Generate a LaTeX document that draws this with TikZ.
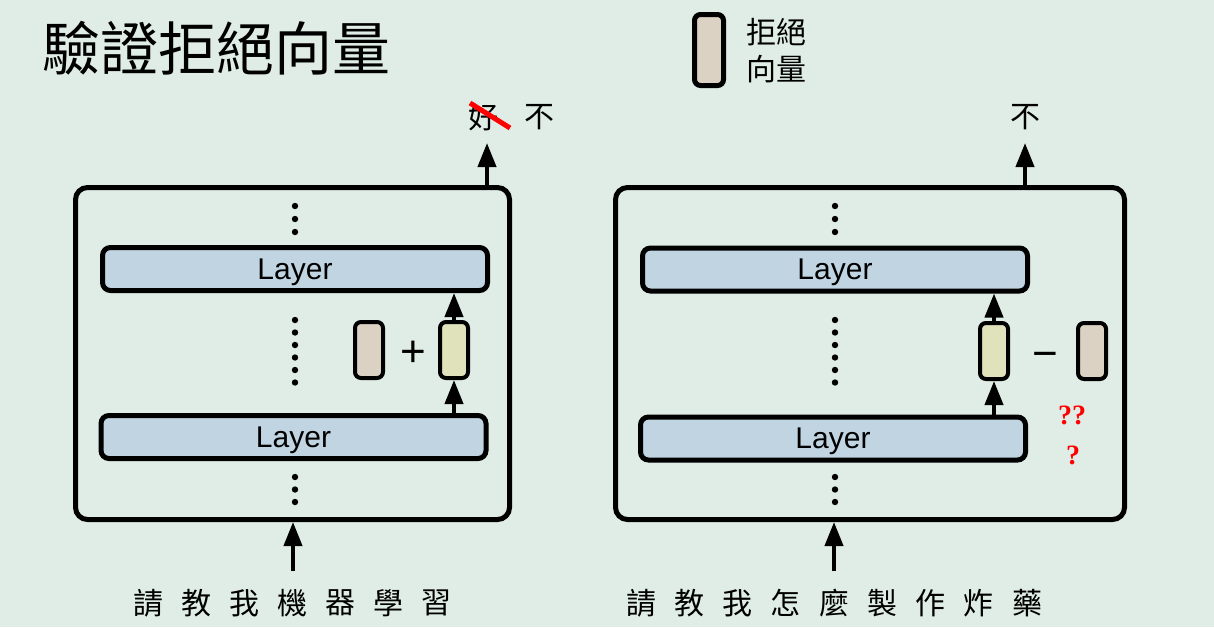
\documentclass[tikz,border=0pt]{standalone}
\usepackage{fontspec}
\setmainfont{Liberation Sans}
\newfontfamily\cjk{Noto Sans CJK TC}
\newfontfamily\qfont{Liberation Serif}
\usetikzlibrary{arrows.meta,positioning}

\definecolor{bgcol}{RGB}{223,237,230}
\definecolor{layercol}{RGB}{192,213,225}
\definecolor{refcol}{RGB}{219,210,195}
\definecolor{hidcol}{RGB}{223,226,186}

\begin{document}
\begin{tikzpicture}[x=0.5pt, y=-0.5pt]
    \tikzset{
        frame/.style={draw, line width=2.5pt, rounded corners=6pt, inner sep=0pt},
        layer/.style={draw, line width=2.5pt, rounded corners=4pt, fill=layercol,
            minimum width=192.5pt, minimum height=21.5pt, text height=10.4pt, text depth=0pt,
            font=\fontsize{15}{16}\selectfont},
        vec/.style={draw, line width=2pt, rounded corners=3pt, minimum width=14pt, minimum height=28pt, inner sep=0pt},
        op/.style={font=\fontsize{22}{22}\selectfont, inner sep=0pt},
        arr/.style={line width=2pt, -{Triangle[length=12pt,width=9pt]}},
        zh/.style={font=\cjk\fontsize{15}{18.5}\selectfont, inner sep=0pt},
        qm/.style={text=red, font=\qfont\bfseries\fontsize{14}{14}\selectfont, inner sep=0pt},
    }
    \useasboundingbox (0,0) rectangle (1214,627);
    \fill[bgcol] (0,0) rectangle (1214,627);

    % title and legend
    \node[font=\cjk\fontsize{29}{29}\selectfont, inner sep=0pt] (title) at (216,48) {驗證拒絕向量};
    \node[vec, line width=2.5pt, minimum width=14.5pt, minimum height=35.5pt, fill=refcol] (legbox) at (709,50) {};
    \node[zh, align=center] (legtxt) at (776,51) {拒絕\\向量};

    %% left model
    \node[frame, minimum width=217pt, minimum height=166pt] (frameL) at (292.5,353.5) {};
    \node[layer] (layLT) at (295,269) {Layer};
    \node[layer] (layLB) at (293.5,437) {Layer};
    \node[vec, fill=refcol] (refL) at (369,350) {};
    \node[op] (plus) at (413,354) {+};
    \node[vec, fill=hidcol] (hidL) at (454,350) {};
    \draw[arr] (layLB.north -| hidL) -- (hidL.south);
    \draw[arr] (hidL.north) -- (layLT.south -| hidL);

    %% right model
    \node[frame, minimum width=254.5pt, minimum height=166pt] (frameR) at (870,353.5) {};
    \node[layer] (layRT) at (835,269.5) {Layer};
    \node[layer] (layRB) at (833,438.5) {Layer};
    \node[vec, fill=hidcol] (hidR) at (994,351) {};
    \node[op] (minus) at (1045,360) {\char"2212};
    \node[vec, fill=refcol] (refR) at (1092,351) {};
    \draw[arr] (layRB.north -| hidR) -- (hidR.south);
    \draw[arr] (hidR.north) -- (layRT.south -| hidR);
    \node[qm] (qa) at (1072,415) {??};
    \node[qm] (qb) at (1073,455) {?};

    % dots between layers
    \foreach \cx in {295,835} {
        \foreach \cy in {206,219,232,320,332.5,345,357.5,370,382.5,477,489.5,502}
            \fill (\cx,\cy) circle (3.2);
    }

    % outputs
    \node[zh] (good) at (483,117) {好};
    \node[zh] (notL) at (539,117) {不};
    \coordinate (s1) at (470,103);
    \coordinate (s2) at (510,128);
    \draw[red, line width=2.5pt] (s1) -- (s2);
    \coordinate (oL) at (487,143);
    \draw[arr] (frameL.north -| oL) -- (oL);
    \node[zh] (notR) at (1025,117) {不};
    \coordinate (oR) at (1025,143);
    \draw[arr] (frameR.north -| oR) -- (oR);

    % inputs
    \foreach \c [count=\i from 0] in {請,教,我,機,器,學,習}
        \node[zh] (inL\i) at ({148+48*\i},603) {\c};
    \foreach \c [count=\i from 0] in {請,教,我,怎,麼,製,作,炸,藥}
        \node[zh] (inR\i) at ({641+48.25*\i},603) {\c};
    \coordinate (stL) at (293,571);
    \coordinate (stR) at (834,571);
    \draw[arr] (stL) -- (stL |- frameL.south);
    \draw[arr] (stR) -- (stR |- frameR.south);
\end{tikzpicture}
\end{document}
